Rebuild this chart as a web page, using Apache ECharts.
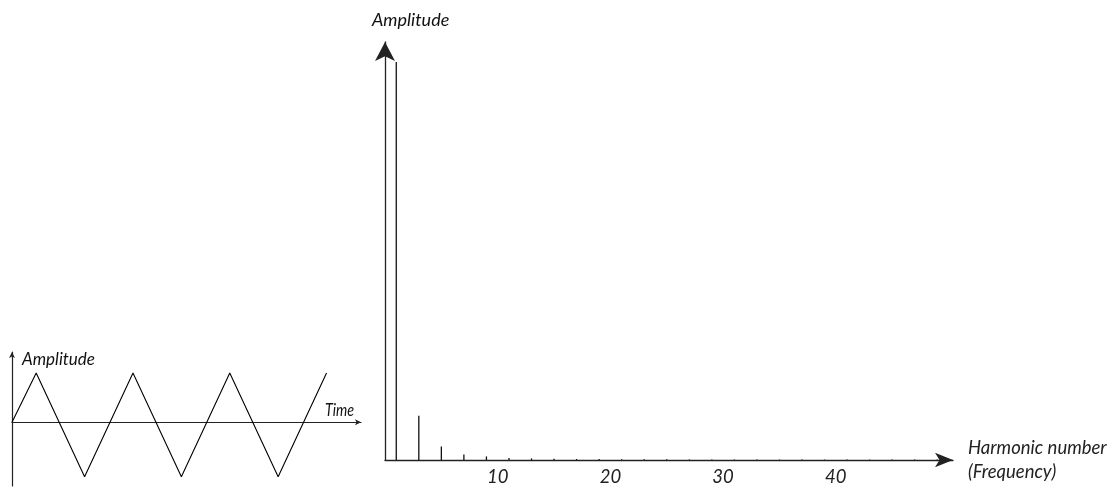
<!DOCTYPE html>
<html>
<head>
<meta charset="utf-8">
<script src="https://cdn.jsdelivr.net/npm/echarts@6/dist/echarts.min.js"></script>
<style>
  html, body { margin: 0; padding: 0; background: #fff; }
  #chart { width: 1116px; height: 487px; }
</style>
</head>
<body>
<div id="chart"></div>
<script>
// ---- Data ----
// Left: triangle wave (time in periods, amplitude)
const timeValues = [0, 0.25, 0.75, 1.25, 1.75, 2.25, 2.75, 3.25];
const waveValues = [0, 1, -1.11, 1, -1.11, 1, -1.11, 1];

// Right: harmonic spectrum (odd harmonics only)
const harmonics = [1, 3, 5, 7, 9, 11, 13, 15, 17, 19, 21, 23, 25, 27, 29, 31, 33, 35, 37, 39, 41, 43, 45, 47, 49];
const amplitudes = [1.0, 0.111, 0.034, 0.014, 0.009, 0.005, 0.004, 0.003, 0.0025, 0.0022, 0.002, 0.0018, 0.0016, 0.0014, 0.0013, 0.0012, 0.0011, 0.001, 0.001, 0.001, 0.001, 0.001, 0.001, 0.001, 0.001];

const tickLabels = ['10', '20', '30', '40'];

const FONT = 'Lato';
const AXIS_COLOR = '#222';

const chart = echarts.init(document.getElementById('chart'), null, { renderer: 'canvas' });

const pairs = (xs, ys) => xs.map((x, i) => [x, ys[i]]);

const option = {
  backgroundColor: '#fff',
  animation: false,
  grid: [
    { left: 12, top: 352, width: 349, height: 134 },
    { left: 385, top: 42, width: 568, height: 421 }
  ],
  xAxis: [
    {
      gridIndex: 0, type: 'value', min: 0, max: 3.606,
      axisLine: { show: true, onZero: true, symbol: ['none', 'arrow'], symbolSize: [4.5, 6],
                  lineStyle: { color: AXIS_COLOR, width: 1.2 } },
      axisTick: { show: false }, axisLabel: { show: false }, splitLine: { show: false }
    },
    {
      gridIndex: 1, type: 'value', min: 0, max: 50.4, interval: 10,
      name: 'Harmonic number\n(Frequency)', nameLocation: 'end', nameGap: 15,
      nameTextStyle: { fontFamily: FONT, fontStyle: 'italic', fontSize: 18.5, color: '#222',
                       lineHeight: 24, align: 'left', verticalAlign: 'middle' },
      axisLine: { show: true, onZero: true, symbol: ['none', 'arrow'], symbolSize: [11, 18],
                  lineStyle: { color: AXIS_COLOR, width: 1.3 } },
      axisTick: { show: false },
      axisLabel: {
        show: true, margin: 8, fontFamily: FONT, fontStyle: 'italic', fontSize: 18.5, color: '#222',
        formatter: function (v) { const s = String(v); return tickLabels.indexOf(s) >= 0 ? s : ''; }
      },
      splitLine: { show: false }
    }
  ],
  yAxis: [
    {
      gridIndex: 0, type: 'value', min: -1.3, max: 1.43,
      axisLine: { show: true, onZero: false, symbol: ['none', 'arrow'], symbolSize: [4.5, 6],
                  lineStyle: { color: AXIS_COLOR, width: 1.2 } },
      axisTick: { show: false }, axisLabel: { show: false }, splitLine: { show: false }
    },
    {
      gridIndex: 1, type: 'value', min: 0, max: 1.05,
      axisLine: { show: true, onZero: false, symbol: ['none', 'arrow'], symbolSize: [15, 19],
                  lineStyle: { color: AXIS_COLOR, width: 1.3 } },
      axisTick: { show: false }, axisLabel: { show: false }, splitLine: { show: false }
    }
  ],
  graphic: [
    { type: 'text', x: 372, y: 20,
      style: { text: 'Amplitude', font: 'italic 18px ' + FONT, fill: '#111', verticalAlign: 'middle', align: 'left' } },
    { type: 'text', x: 22, y: 360,
      style: { text: 'Amplitude', font: 'italic 17px ' + FONT, fill: '#111', verticalAlign: 'middle', align: 'left' } },
    { type: 'text', x: 325, y: 411, scaleX: 0.84,
      style: { text: 'Time', font: 'italic 17px ' + FONT, fill: '#111', verticalAlign: 'middle', align: 'left' } }
  ],
  series: [
    {
      type: 'line', xAxisIndex: 0, yAxisIndex: 0,
      data: pairs(timeValues, waveValues),
      symbol: 'none', lineStyle: { color: '#000', width: 1.1 }, silent: true
    },
    {
      type: 'bar', xAxisIndex: 1, yAxisIndex: 1,
      data: pairs(harmonics, amplitudes),
      barWidth: 1.3, itemStyle: { color: '#111' }, silent: true
    }
  ]
};

chart.setOption(option);
</script>
</body>
</html>
